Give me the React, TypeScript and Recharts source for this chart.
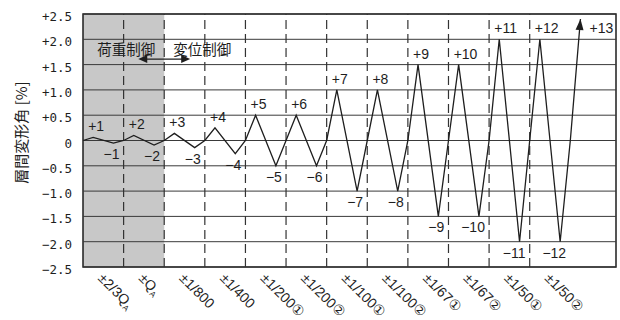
import {
    Line,
    LineChart,
    LabelList,
    ReferenceArea,
    ReferenceDot,
    ReferenceLine,
    XAxis,
    YAxis,
} from "recharts"

// loading steps (one column per cycle)
const cycleLabels = [
    "±2/3Q", "±Q", "±1/800", "±1/400", "±1/200①", "±1/200②",
    "±1/100①", "±1/100②", "±1/67①", "±1/67②", "±1/50①", "±1/50②",
]
const cycleSubs = ["A", "A", "", "", "", "", "", "", "", "", "", ""]

// peak drift angles [%]
const positivePeaks = [0.06, 0.1, 0.14, 0.25, 0.5, 0.5, 1.0, 1.0, 1.5, 1.5, 2.0, 2.0, 2.4]
const negativePeaks = [-0.05, -0.09, -0.14, -0.26, -0.5, -0.5, -1.0, -1.0, -1.5, -1.5, -2.0, -2.0]
const positiveTags = ["+1", "+2", "+3", "+4", "+5", "+6", "+7", "+8", "+9", "+10", "+11", "+12", "+13"]
const negativeTags = ["−1", "−2", "−3", "−4", "−5", "−6", "−7", "−8", "−9", "−10", "−11", "−12"]

const yTicks = [2.5, 2.0, 1.5, 1.0, 0.5, 0, -0.5, -1.0, -1.5, -2.0, -2.5]
const yTickLabels = ["+2.5", "+2.0", "+1.5", "+1.0", "+0.5", "0", "−0.5", "−1.0", "−1.5", "−2.0", "−2.5"]

const controlLabels = ["荷重制御", "変位制御"]

const STEP = 4 // x units per cycle
const columnBounds = cycleLabels.map((_, i) => (i + 1) * STEP)
const tickPositions = cycleLabels.map((_, i) => i * STEP + STEP / 2)
const lastTag = positiveTags[positiveTags.length - 1]

const data: { x: number; y: number; tag?: string }[] = []
positivePeaks.forEach((p, i) => {
    data.push({ x: i * STEP, y: 0 })
    data.push({ x: i * STEP + 1, y: p, tag: positiveTags[i] })
    if (i < negativePeaks.length) {
        data.push({ x: i * STEP + 3, y: negativePeaks[i], tag: negativeTags[i] })
    }
})

const INK = "#1e1e1e"
const LATIN = "'Liberation Sans', Arial, sans-serif"
const CJK = "'Noto Sans CJK JP', sans-serif"

const XTick = (props: any) => {
    const { x, y, index } = props
    const sub = cycleSubs[index]
    return (
        <text
            transform={`translate(${x - 6},${y + 12}) rotate(45)`}
            fontSize={14}
            fontFamily={LATIN}
            fill={INK}
            textAnchor="start"
        >
            {cycleLabels[index]}
            {sub ? (
                <tspan fontSize={8} dy={3}>
                    {sub}
                </tspan>
            ) : null}
        </text>
    )
}

const YTick = (props: any) => {
    const { x, y, index } = props
    return (
        <text
            x={x}
            y={y + 7}
            textAnchor="end"
            fontSize={12.5}
            fontFamily="'DejaVu Sans Mono', monospace"
            fill={INK}
        >
            {yTickLabels[index]}
        </text>
    )
}

const YLabel = (props: any) => {
    const { viewBox } = props
    const cx = viewBox.x + 20
    const cy = viewBox.y + viewBox.height / 2 - 8
    return (
        <text
            transform={`translate(${cx},${cy}) rotate(-90)`}
            textAnchor="middle"
            dominantBaseline="central"
            fontSize={15}
            fontFamily={CJK}
            fill={INK}
        >
            層間変形角 [%]
        </text>
    )
}

const PeakTag = (props: any) => {
    const { x, y, value } = props
    if (!value) return null
    if (value === lastTag) {
        return (
            <text x={x + 9} y={y + 14} fontSize={14} fontFamily={LATIN} fill={INK}>
                {value}
            </text>
        )
    }
    const up = value.startsWith("+")
    return (
        <text
            x={up ? x - 5 : x + 6}
            y={up ? y - 6 : y + 16}
            textAnchor={up ? "start" : "end"}
            fontSize={14}
            fontFamily={LATIN}
            fill={INK}
        >
            {value}
        </text>
    )
}

// arrow head on the last (open-ended) excursion
const ArrowDot = (props: any) => {
    const { cx, cy, index, payload, points } = props
    if (payload?.tag !== lastTag) return <g key={`d-${index}`} />
    let dx = 0.08
    let dy = -1
    const prev = points?.[index - 1]
    if (prev) {
        const len = Math.hypot(cx - prev.x, cy - prev.y)
        dx = (cx - prev.x) / len
        dy = (cy - prev.y) / len
    }
    const bx = cx - dx * 11
    const by = cy - dy * 11
    const nx = -dy * 4
    const ny = dx * 4
    return (
        <polygon
            key={`d-${index}`}
            points={`${cx},${cy} ${bx + nx},${by + ny} ${bx - nx},${by - ny}`}
            fill={INK}
        />
    )
}

const DoubleArrow = (props: any) => {
    const { x1, y1, x2, y2 } = props
    const h = 4
    const l = 9
    return (
        <g>
            <line x1={x1 + 3} y1={y1} x2={x2 - 3} y2={y2} stroke={INK} strokeWidth={1.2} />
            <polygon points={`${x1},${y1} ${x1 + l},${y1 - h} ${x1 + l},${y1 + h}`} fill={INK} />
            <polygon points={`${x2},${y2} ${x2 - l},${y2 - h} ${x2 - l},${y2 + h}`} fill={INK} />
        </g>
    )
}

export default function App() {
    return (
        <div style={{ position: "absolute", left: 0, top: 0, background: "#fff" }}>
            <LineChart
                width={620}
                height={320}
                data={data}
                margin={{ top: 14, right: 4, left: 0, bottom: 0 }}
            >
                <XAxis
                    type="number"
                    dataKey="x"
                    domain={[0, 52.5]}
                    ticks={tickPositions}
                    interval={0}
                    tick={<XTick />}
                    axisLine={false}
                    tickLine={false}
                    tickSize={0}
                    tickMargin={0}
                    height={53}
                />
                <YAxis
                    type="number"
                    domain={[-2.5, 2.5]}
                    ticks={yTicks}
                    interval={0}
                    tick={<YTick />}
                    axisLine={false}
                    tickLine={false}
                    tickSize={0}
                    tickMargin={11}
                    width={83}
                    label={{ content: <YLabel /> }}
                />
                <ReferenceArea x1={0} x2={2 * STEP} y1={-2.5} y2={2.5} fill="#c8c8c8" fillOpacity={1} stroke="none" />
                {yTicks.map((v) => (
                    <ReferenceLine key={`h-${v}`} y={v} stroke="#3a3a3a" strokeWidth={1} />
                ))}
                {columnBounds.slice(0, -1).map((b) => (
                    <ReferenceLine key={`v-${b}`} x={b} stroke="#333" strokeWidth={1.2} strokeDasharray="9 5" />
                ))}
                <ReferenceArea x1={0} x2={52.5} y1={-2.5} y2={2.5} fill="none" stroke={INK} strokeWidth={1.5} />
                <ReferenceDot x={4.26} y={1.79} r={0} stroke="none" fill="none"
                    label={{ value: controlLabels[0], position: "center", fontSize: 14.5, fontFamily: CJK, fill: INK }} />
                <ReferenceDot x={11.75} y={1.79} r={0} stroke="none" fill="none"
                    label={{ value: controlLabels[1], position: "center", fontSize: 14.5, fontFamily: CJK, fill: INK }} />
                <ReferenceLine
                    segment={[{ x: 5.44, y: 1.61 }, { x: 10.56, y: 1.61 }]}
                    shape={<DoubleArrow />}
                />
                <Line
                    type="linear"
                    dataKey="y"
                    stroke={INK}
                    strokeWidth={1.3}
                    dot={ArrowDot}
                    activeDot={false}
                    isAnimationActive={false}
                >
                    <LabelList dataKey="tag" content={<PeakTag />} />
                </Line>
            </LineChart>
        </div>
    )
}
